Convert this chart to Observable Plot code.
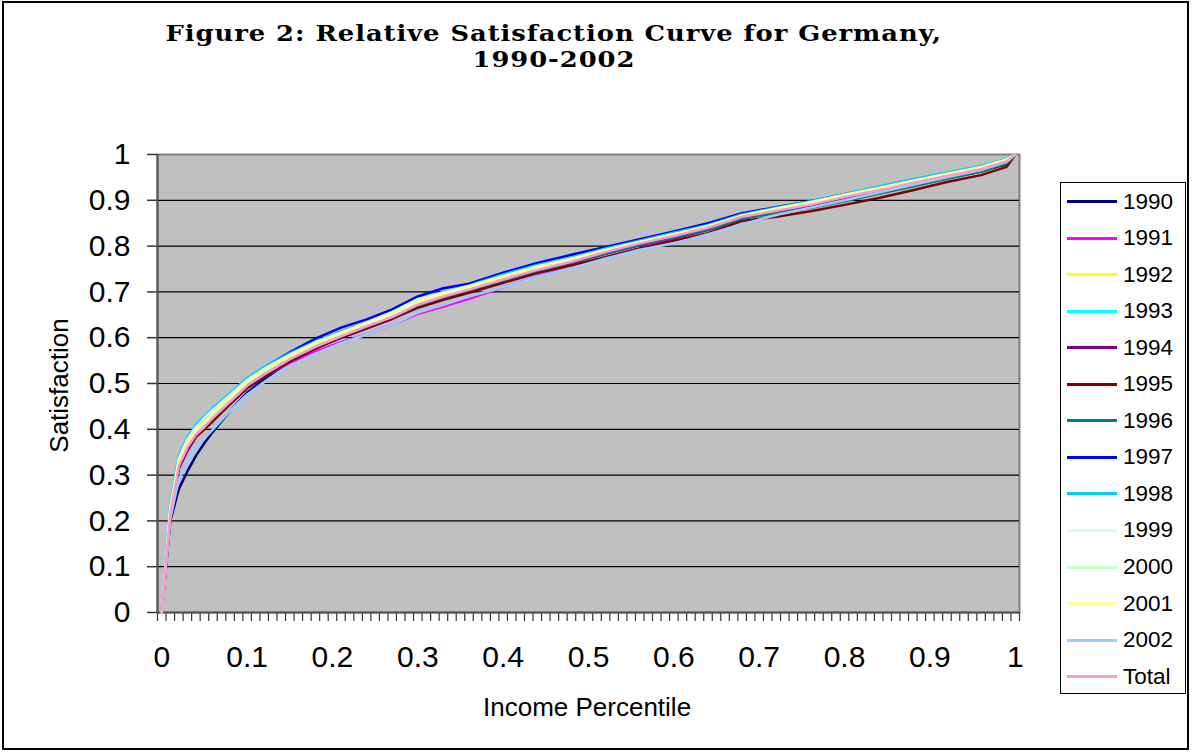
<!DOCTYPE html>
<html><head><meta charset="utf-8">
<script src="https://cdn.jsdelivr.net/npm/d3@7"></script>
<script src="https://cdn.jsdelivr.net/npm/@observablehq/plot@0.6"></script>
<style>
body{margin:0;background:#fff;}
#wrap{position:relative;width:1192px;height:754px;overflow:hidden;font-family:Arial,"Liberation Sans",sans-serif;color:#000;}
#border{position:absolute;left:2px;top:1px;width:1187px;height:749px;border:2px solid #000;box-sizing:border-box;}
.title{position:absolute;font-family:"DejaVu Serif",serif;font-weight:bold;font-size:21.5px;line-height:26px;white-space:nowrap;letter-spacing:0.8px;transform-origin:50% 50%;}
#chart{position:absolute;left:0;top:0;}
#legend{position:absolute;left:1060px;top:182px;width:126px;height:512px;border:1px solid #000;box-sizing:border-box;background:#fff;}
.lrow{position:absolute;left:0;height:30px;display:flex;align-items:center;}
.lline{display:inline-block;width:50px;height:3px;margin-left:6px;}
.ltext{margin-left:6px;font-size:22.5px;line-height:30px;}
.axtitle{position:absolute;font-size:26px;white-space:nowrap;}
</style></head>
<body>
<div id="wrap">
  <div id="chart"></div>
  <div id="border"></div>
  <div class="title" id="t1" style="top:21px">Figure 2: Relative Satisfaction Curve for Germany,</div>
  <div class="title" id="t2" style="top:47px">1990-2002</div>
  <div class="axtitle" id="ytitle">Satisfaction</div>
  <div class="axtitle" id="xtitle">Income Percentile</div>
  <div id="legend"></div>
</div>
<script>
// Income percentile positions
const xs = [0, .01, .02, .03, .04, .05, .06, .08, .10, .12, .15, .18, .21, .24, .27, .30, .33, .36, .40, .44, .48, .52, .56, .60, .64, .68, .72, .76, .80, .84, .88, .92, .96, .99, 1];

const s1990 = [0, .200, .270, .308, .342, .370, .395, .440, .480, .510, .548, .578, .600, .621, .642, .668, .700, .708, .728, .752, .770, .790, .806, .823, .842, .864, .876, .888, .902, .917, .932, .948, .963, .979, 1];
const s1991 = [0, .212, .315, .352, .383, .400, .420, .455, .490, .515, .545, .570, .590, .607, .628, .652, .668, .685, .710, .734, .754, .776, .795, .815, .836, .862, .878, .894, .914, .928, .943, .957, .971, .987, 1];
const s1992 = [0, .220, .325, .362, .392, .410, .430, .465, .500, .525, .556, .584, .607, .628, .650, .676, .693, .709, .731, .752, .770, .790, .808, .825, .843, .866, .881, .895, .911, .926, .942, .957, .972, .988, 1];
const s1993 = [0, .235, .342, .380, .405, .425, .445, .477, .510, .533, .563, .590, .612, .633, .656, .681, .698, .713, .736, .757, .773, .793, .810, .827, .845, .868, .883, .897, .913, .929, .945, .960, .975, .990, 1];
const s1994 = [0, .215, .315, .355, .385, .402, .420, .456, .490, .516, .550, .577, .600, .620, .641, .668, .686, .702, .723, .745, .763, .783, .802, .818, .835, .860, .873, .887, .903, .918, .934, .950, .965, .983, 1];
const s1995 = [0, .215, .318, .356, .384, .400, .418, .455, .490, .515, .548, .576, .600, .622, .642, .665, .683, .698, .720, .741, .758, .776, .795, .812, .828, .855, .864, .876, .890, .905, .922, .940, .955, .973, 1];
const s1996 = [0, .218, .322, .360, .390, .406, .425, .460, .495, .520, .552, .580, .603, .624, .645, .670, .688, .704, .725, .746, .764, .784, .803, .819, .836, .860, .872, .883, .898, .914, .930, .947, .963, .981, 1];
const s1997 = [0, .220, .330, .370, .400, .420, .440, .475, .510, .535, .568, .598, .622, .640, .662, .690, .708, .718, .742, .763, .781, .798, .815, .832, .850, .872, .885, .898, .913, .927, .943, .958, .973, .988, 1];
const s1998 = [0, .238, .342, .382, .410, .428, .447, .478, .512, .536, .566, .592, .613, .633, .656, .683, .700, .714, .738, .759, .775, .795, .812, .829, .846, .869, .884, .898, .914, .930, .946, .961, .975, .990, 1];
const s1999 = [0, .230, .336, .378, .405, .425, .443, .475, .508, .532, .563, .590, .611, .633, .656, .684, .699, .713, .735, .756, .773, .792, .809, .826, .842, .866, .881, .895, .910, .925, .941, .956, .971, .987, 1];
const s2000 = [0, .222, .328, .368, .395, .412, .432, .467, .502, .527, .558, .586, .608, .629, .650, .677, .694, .709, .731, .752, .770, .790, .808, .824, .842, .866, .880, .894, .909, .924, .940, .955, .970, .987, 1];
const s2001 = [0, .226, .332, .372, .400, .417, .437, .470, .505, .530, .561, .588, .610, .631, .652, .679, .696, .711, .733, .754, .771, .791, .809, .826, .844, .867, .882, .896, .912, .927, .943, .958, .973, .989, 1];
const s2002 = [0, .205, .290, .330, .360, .380, .400, .440, .476, .503, .538, .565, .588, .607, .628, .655, .672, .690, .710, .733, .752, .773, .792, .806, .826, .848, .868, .884, .900, .917, .934, .950, .966, .984, 1];
const sTotal = [0, .215, .320, .360, .388, .405, .425, .460, .495, .520, .553, .580, .603, .625, .645, .672, .690, .705, .727, .748, .766, .787, .806, .822, .840, .864, .877, .890, .907, .922, .938, .953, .968, .985, 1];

const seriesNames = ["1990","1991","1992","1993","1994","1995","1996","1997","1998","1999","2000","2001","2002","Total"];
const seriesValues = [s1990,s1991,s1992,s1993,s1994,s1995,s1996,s1997,s1998,s1999,s2000,s2001,s2002,sTotal];
const seriesColors = ["#000080","#FF00FF","#FFFF00","#00FFFF","#800080","#800000","#008080","#0000FF","#00CCFF","#CCFFFF","#CCFFCC","#FFFF99","#99CCFF","#FF99CC"];

const yTicks = [0, 0.1, 0.2, 0.3, 0.4, 0.5, 0.6, 0.7, 0.8, 0.9, 1];
const xLabelTicks = [0, 0.1, 0.2, 0.3, 0.4, 0.5, 0.6, 0.7, 0.8, 0.9, 1];

const data = [];
seriesNames.forEach((name, i) => {
  seriesValues[i].forEach((v, j) => data.push({series: name, x: xs[j], y: v}));
});

// category boundaries (101 categories of width 0.01)
const minorTicks = d3.range(0, 102).map(k => -0.005 + k * 0.01);
const fmt = d => String(+(+d).toFixed(1));

const chart = Plot.plot({
  width: 1192, height: 754,
  marginLeft: 157, marginRight: 173, marginTop: 154, marginBottom: 142,
  style: {background: "transparent", fontFamily: "Arial, 'Liberation Sans', sans-serif", overflow: "visible", color: "#000"},
  x: {domain: [-0.005, 1.005]},
  y: {domain: [0, 1]},
  color: {domain: seriesNames, range: seriesColors},
  marks: [
    Plot.frame({fill: "#c0c0c0", stroke: "#808080", strokeWidth: 2}),
    Plot.ruleY(yTicks.slice(1, -1), {stroke: "#000", strokeWidth: 1.2}),
    Plot.axisY({ticks: yTicks, tickSize: 10, tickPadding: 17, fontSize: 30, tickFormat: fmt, label: null, stroke: "#333", strokeWidth: 1.5}),
    Plot.axisX({ticks: minorTicks, tickSize: 9, tickFormat: () => "", label: null, stroke: "#333", strokeWidth: 1.2}),
    Plot.axisX({ticks: xLabelTicks, tickSize: 0, tickPadding: 33, fontSize: 30, tickFormat: fmt, label: null}),
    Plot.ruleX([-0.005], {stroke: "#555", strokeWidth: 2}),
    Plot.ruleY([0], {stroke: "#555", strokeWidth: 2}),
    Plot.line(data, {x: "x", y: "y", z: "series", stroke: "series", strokeWidth: 2.5})
  ]
});
document.getElementById("chart").appendChild(chart);

// legend
const leg = document.getElementById("legend");
seriesNames.forEach((name, i) => {
  const row = document.createElement("div");
  row.className = "lrow";
  row.style.top = (201.5 + 36.55 * i - 182 - 1 - 15) + "px";
  row.innerHTML = `<span class="lline" style="background:${seriesColors[i]}"></span><span class="ltext">${name}</span>`;
  leg.appendChild(row);
});

// title: widen horizontally to the reference width (line 1 spans ~777px, centred at x=554)
const t1 = document.getElementById("t1"), t2 = document.getElementById("t2");
const sx = 777 / t1.offsetWidth;
[t1, t2].forEach(t => {
  t.style.left = (554 - t.offsetWidth / 2) + "px";
  t.style.transform = `scaleX(${sx})`;
});

// axis titles
const yt = document.getElementById("ytitle");
yt.style.left = (59 - yt.offsetWidth / 2) + "px";
yt.style.top = (385 - yt.offsetHeight / 2) + "px";
yt.style.transform = "rotate(-90deg)";
const xt = document.getElementById("xtitle");
xt.style.left = (587 - xt.offsetWidth / 2) + "px";
xt.style.top = (707 - xt.offsetHeight / 2) + "px";
</script>
</body></html>
